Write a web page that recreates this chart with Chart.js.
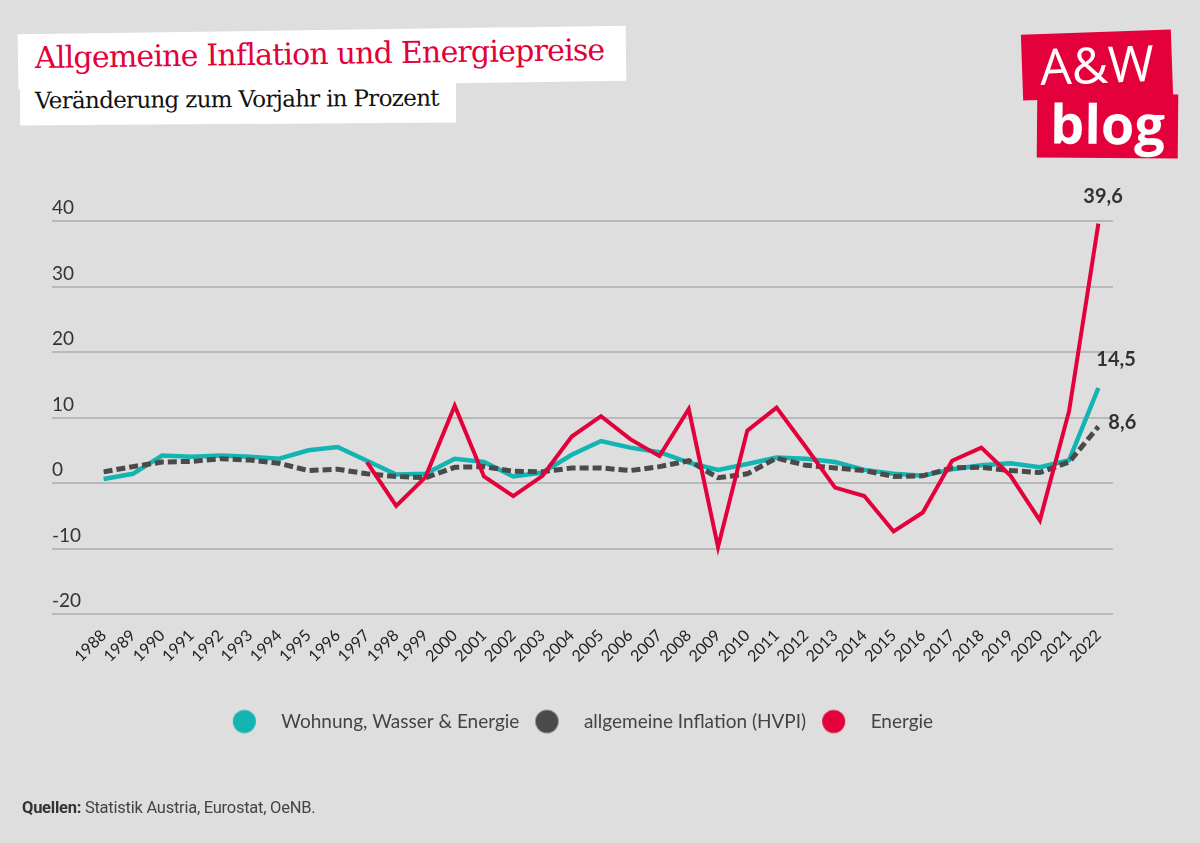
<!DOCTYPE html>
<html>
<head>
<meta charset="utf-8">
<script src="https://cdn.jsdelivr.net/npm/chart.js@4.4.1/dist/chart.umd.min.js"></script>
<style>
  html, body { margin: 0; padding: 0; }
  body { width: 1200px; height: 843px; background: #dedede; position: relative; overflow: hidden; }
  #chartWrap { position: absolute; left: 0; top: 0; width: 1200px; height: 843px; }
  .box { position: absolute; background: #fff; }
  .title { left: 18px; top: 30px; width: 608px; height: 55px; transform: rotate(-0.8deg); }
  .title span { position: absolute; left: 17px; top: 6px; font-family: "DejaVu Serif", serif; font-size: 30px; color: #e3003b; white-space: nowrap; letter-spacing: -0.8px; }
  .sub { left: 20px; top: 80px; width: 436px; height: 44px; transform: rotate(-0.4deg); }
  .sub span { position: absolute; left: 15px; top: 6px; font-family: "DejaVu Serif", serif; font-size: 23px; color: #111; white-space: nowrap; letter-spacing: -0.7px; }
  .logo { position: absolute; background: #e3003b; color: #fff; font-family: "Open Sans", sans-serif; text-align: center; }
  .logo1 { left: 1022px; top: 32px; width: 150px; height: 66px; transform: rotate(-2deg); font-size: 50px; line-height: 64px; font-weight: 400; }
  .logo2 { left: 1037px; top: 94px; width: 141px; height: 64px; transform: rotate(0.5deg); font-size: 54px; line-height: 58px; font-weight: 700; }
  .source { position: absolute; left: 22px; top: 798px; font-family: "Roboto", sans-serif; font-size: 16.5px; color: #444; letter-spacing: -0.25px; }
  .source b { color: #333; }
</style>
</head>
<body>
<div class="box title"><span>Allgemeine Inflation und Energiepreise</span></div>
<div class="box sub"><span>Veränderung zum Vorjahr in Prozent</span></div>
<div class="logo logo1">A&amp;W</div>
<div class="logo logo2">blog</div>
<div id="chartWrap"><canvas id="myChart" width="1200" height="843"></canvas></div>
<div class="source"><b>Quellen:</b> Statistik Austria, Eurostat, OeNB.</div>

<script>
// Jahre (x-Achse)
const years = ["1988", "1989", "1990", "1991", "1992", "1993", "1994", "1995", "1996", "1997",
  "1998", "1999", "2000", "2001", "2002", "2003", "2004", "2005", "2006", "2007",
  "2008", "2009", "2010", "2011", "2012", "2013", "2014", "2015", "2016", "2017",
  "2018", "2019", "2020", "2021", "2022"];

// Veränderung zum Vorjahr in %
const wohnung = [0.6, 1.4, 4.2, 4.0, 4.2, 4.0, 3.7, 5.0, 5.5, 3.4,
  1.3, 1.4, 3.7, 3.2, 1.0, 1.6, 4.3, 6.4, 5.4, 4.7,
  3.1, 2.0, 2.9, 3.9, 3.7, 3.2, 2.0, 1.4, 1.1, 2.1,
  2.7, 3.0, 2.4, 3.5, 14.5];
const hvpi = [1.7, 2.5, 3.2, 3.3, 3.7, 3.5, 3.0, 1.9, 2.1, 1.4,
  1.0, 0.8, 2.4, 2.5, 1.8, 1.7, 2.3, 2.3, 1.9, 2.5,
  3.4, 0.8, 1.4, 3.8, 2.7, 2.3, 1.9, 1.0, 1.1, 2.3,
  2.4, 1.9, 1.6, 3.2, 8.6];
const energie = [null, null, null, null, null, null, null, null, null, 3.2,
  -3.5, 0.9, 11.8, 1.0, -2.0, 1.1, 7.1, 10.2, 6.7, 4.1,
  11.3, -9.8, 8.0, 11.5, 5.5, -0.7, -2.0, -7.4, -4.5, 3.4,
  5.4, 1.1, -5.7, 11.0, 39.6];

const yTicks = [-20, -10, 0, 10, 20, 30, 40];

const TEAL = "#12b5b2";
const DARK = "#4a4a4a";
const RED = "#e3003b";

// runder Legendenpunkt, links im Bild sitzend (für mehr Abstand zum Text)
function dot(color) {
  const c = document.createElement("canvas");
  c.width = 40;
  c.height = 26;
  const g = c.getContext("2d");
  g.fillStyle = color;
  g.beginPath();
  g.arc(12.5, 13, 11.5, 0, Math.PI * 2);
  g.fill();
  return c;
}

// Wert am letzten Punkt anschreiben (39,6 / 14,5 / 8,6)
const endLabels = {
  id: "endLabels",
  afterDatasetsDraw(chart, args, opts) {
    const ctx = chart.ctx;
    ctx.save();
    ctx.font = "bold 20px Lato, sans-serif";
    ctx.fillStyle = "#333";
    ctx.textAlign = "left";
    ctx.textBaseline = "middle";
    chart.data.datasets.forEach((ds, i) => {
      const meta = chart.getDatasetMeta(i);
      const last = meta.data[meta.data.length - 1];
      const val = ds.data[ds.data.length - 1];
      const off = opts.offsets[i];
      ctx.fillText(String(val).replace(".", ","), last.x + off[0], last.y + off[1]);
    });
    ctx.restore();
  },
};

const myChartRef = document.getElementById("myChart").getContext("2d");
new Chart(myChartRef, {
  type: "line",
  data: {
    labels: years,
    datasets: [
      {
        label: "Wohnung, Wasser & Energie",
        data: wohnung,
        borderColor: TEAL,
        backgroundColor: TEAL,
        borderWidth: 4.5,
        pointStyle: dot(TEAL),
        order: 3,
      },
      {
        label: "allgemeine Inflation (HVPI)",
        data: hvpi,
        borderColor: DARK,
        backgroundColor: DARK,
        borderWidth: 5,
        borderDash: [9, 4],
        pointStyle: dot(DARK),
        order: 2,
      },
      {
        label: "Energie",
        data: energie,
        borderColor: RED,
        backgroundColor: RED,
        borderWidth: 4,
        pointStyle: dot(RED),
        order: 1,
      },
    ],
  },
  options: {
    responsive: false,
    animation: false,
    layout: { padding: { left: 52, right: 87, top: 221, bottom: 102 } },
    elements: {
      point: { radius: 0, hoverRadius: 0 },
      line: { tension: 0, borderCapStyle: "butt", borderJoinStyle: "miter" },
    },
    scales: {
      x: {
        offset: true,
        grid: { display: false },
        border: { display: false },
        ticks: {
          autoSkip: false,
          minRotation: 45,
          maxRotation: 45,
          padding: 4,
          color: "#222",
          font: { family: "Lato, sans-serif", size: 16 },
        },
        afterFit: (scale) => { scale.height = 83; },
      },
      y: {
        min: -20,
        max: 40,
        afterBuildTicks: (scale) => { scale.ticks = yTicks.map((v) => ({ value: v })); },
        grid: { color: "#b9b9b9", lineWidth: 2, tickLength: 37, drawTicks: true },
        border: { display: false },
        ticks: {
          crossAlign: "far",
          labelOffset: -13,
          padding: 0,
          color: "#333",
          font: { family: "Lato, sans-serif", size: 19 },
        },
        afterFit: (scale) => { scale.width = 37; },
      },
    },
    plugins: {
      legend: {
        position: "bottom",
        labels: {
          usePointStyle: true,
          pointStyleWidth: 40,
          boxHeight: 19,
          padding: 15,
          color: "#444",
          font: { family: "Lato, sans-serif", size: 19 },
          sort: (a, b) => a.datasetIndex - b.datasetIndex,
        },
      },
      tooltip: { enabled: false },
      endLabels: { offsets: [[-2, -28], [10, -4], [-15, -27]] },
    },
  },
  plugins: [endLabels],
});
</script>
</body>
</html>
